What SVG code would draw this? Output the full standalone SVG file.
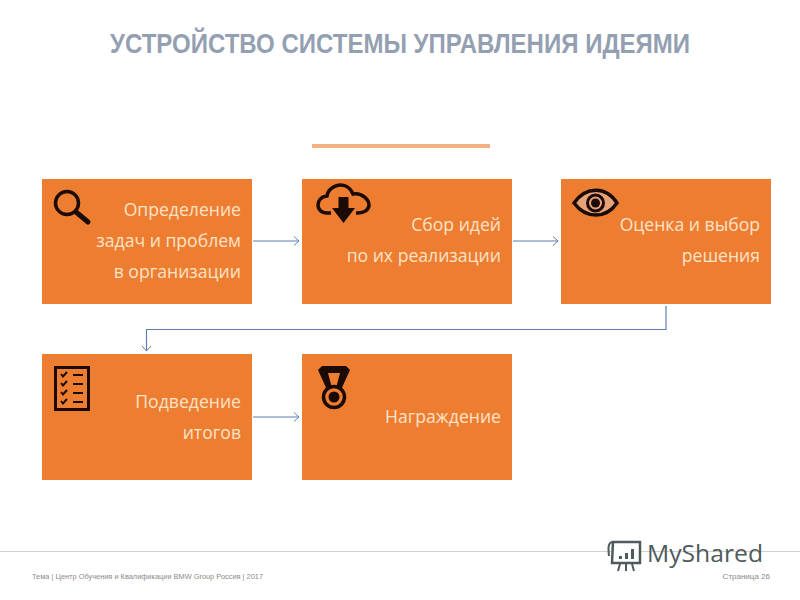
<svg xmlns="http://www.w3.org/2000/svg" width="800" height="600" viewBox="0 0 800 600">
<defs>
<marker id="arr" markerWidth="10" markerHeight="10" refX="8" refY="5" orient="auto" markerUnits="userSpaceOnUse"><path d="M3 0.5L8 5L3 9.5" fill="none" stroke="#5f7fb0" stroke-width="1"/></marker>
</defs>
<style>
.box{fill:#ed7d31}
.lbl{font-family:"Open Sans","Noto Sans",sans-serif;font-size:17.6px;fill:#fde3c8;text-anchor:end}
.ic{fill:none;stroke:#1c0a04;stroke-width:3.5}
.icf{fill:#1c0a04}
.con{fill:none;stroke:#5f7fb0;stroke-width:1.2;marker-end:url(#arr)}
.foot{font-family:"Liberation Sans",sans-serif;font-size:8px;fill:#8a8a8a}
.wm{font-family:"Open Sans","Noto Sans",sans-serif;font-size:24px;fill:#4f5a5c}
</style>
<rect width="800" height="600" fill="#fff"/>
<text x="400" y="53" text-anchor="middle" font-family="Liberation Sans, sans-serif" font-weight="700" font-size="28" fill="#949fb2" textLength="580" lengthAdjust="spacingAndGlyphs">УСТРОЙСТВО СИСТЕМЫ УПРАВЛЕНИЯ ИДЕЯМИ</text>
<rect x="312" y="144" width="178" height="4" fill="#f4b183"/>
<g id="connectors">
<path class="con" d="M253 241H299"/>
<path class="con" d="M513 241H558"/>
<path class="con" d="M666 306V329.500H146.500V351"/>
<path class="con" d="M253 417H299"/>
</g>
<g id="node1">
<rect class="box" x="42" y="179" width="210" height="125"/>
<circle class="ic" cx="67" cy="203" r="11.500"/>
<path d="M76 212L88 222" stroke="#1c0a04" stroke-width="5" stroke-linecap="round"/>
<text class="lbl" x="241" y="216">Определение</text>
<text class="lbl" x="241" y="247">задач и проблем</text>
<text class="lbl" x="241" y="278">в организации</text>
</g>
<g id="node2">
<rect class="box" x="302" y="179" width="210" height="125"/>
<path class="ic" d="M331 213H327C315 213 315 197 327 196C328 185 347 179 353 194C362 192 369 200 369 205C369 210 364 213 358 213H356"/>
<path class="icf" d="M338.500 197H348.500V208H355L343.500 223L332 208H338.500Z"/>
<text class="lbl" x="501" y="231">Сбор идей</text>
<text class="lbl" x="501" y="262">по их реализации</text>
</g>
<g id="node3">
<rect class="box" x="561" y="179" width="210" height="125"/>
<path d="M574 203C586 186 606 186 617 203C606 219 586 219 574 203Z" fill="#e8a27a" stroke="#1c0a04" stroke-width="3.500"/>
<circle cx="595.500" cy="203" r="8" fill="#e8a27a" stroke="#1c0a04" stroke-width="3"/>
<circle class="icf" cx="595.500" cy="203" r="4.500"/>
<text class="lbl" x="760" y="231">Оценка и выбор</text>
<text class="lbl" x="760" y="262">решения</text>
</g>
<g id="node4">
<rect class="box" x="42" y="354" width="210" height="126"/>
<rect x="55.500" y="367.500" width="33" height="42" fill="none" stroke="#1c0a04" stroke-width="3"/>
<path d="M61 374L63 376.500L67 372M61 383L63 385.500L67 381M61 392L63 394.500L67 390M61 401L63 403.500L67 399" fill="none" stroke="#1c0a04" stroke-width="2"/>
<path d="M73 375H83M73 384H83M73 393H83M73 402H83" stroke="#1c0a04" stroke-width="2"/>
<text class="lbl" x="241" y="408">Подведение</text>
<text class="lbl" x="241" y="439">итогов</text>
</g>
<g id="node5">
<rect class="box" x="302" y="354" width="210" height="126"/>
<path class="icf" d="M318 370L322 366H346L350 370L340 392H335L340 373H328L333 392H328Z"/>
<circle cx="334" cy="397" r="10.500" fill="#ed7d31" stroke="#1c0a04" stroke-width="3.500"/>
<circle class="icf" cx="334" cy="397" r="5.500"/>
<text class="lbl" x="501" y="423">Награждение</text>
</g>
<path d="M0 551.500H800" stroke="#d0d0d0" stroke-width="1"/>
<text class="foot" x="32" y="579" textLength="231" lengthAdjust="spacingAndGlyphs">Тема | Центр Обучения и Квалификации BMW Group Россия | 2017</text>
<text class="foot" x="770" y="579" text-anchor="end">Страница 26</text>
<g id="watermark">
<path d="M613 542H640V563H612Z" fill="#fff" stroke="#4f5a5c" stroke-width="2.500"/>
<path d="M613 542C608 542 608 548 609 556" fill="none" stroke="#4f5a5c" stroke-width="2"/>
<rect x="619" y="556" width="3" height="3" fill="#4f5a5c"/><rect x="625" y="553" width="3" height="6" fill="#4f5a5c"/><rect x="631" y="549" width="3" height="10" fill="#4f5a5c"/>
<path d="M620 564L618 571M626 564V571M632 564L634 571" stroke="#4f5a5c" stroke-width="2"/>
<text class="wm" x="647" y="562" textLength="116" lengthAdjust="spacingAndGlyphs">MyShared</text>
</g>
</svg>
